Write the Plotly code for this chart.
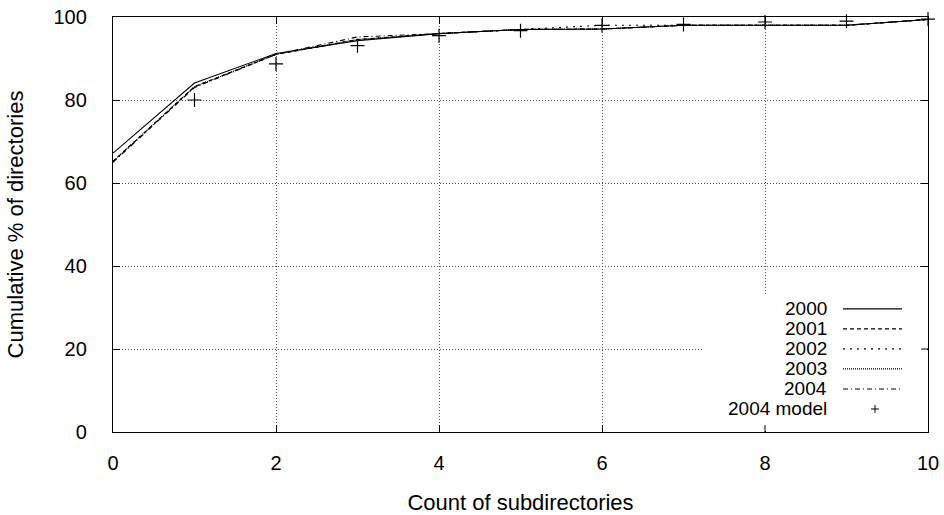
import plotly.graph_objects as go

x_counts = [0, 1, 2, 3, 4, 5, 6, 7, 8, 9, 10]
y2000 = [67.2, 84.1, 91.2, 94.3, 96.0, 97.0, 97.1, 98.0, 98.0, 98.0, 99.4]
y2001 = [65.2, 83.2, 91.0, 94.5, 96.0, 97.0, 97.1, 98.0, 98.0, 98.0, 99.4]
y2002 = [65.2, 83.2, 91.0, 94.6, 96.0, 97.0, 98.0, 98.0, 98.0, 98.0, 99.4]
y2003 = [65.2, 83.2, 91.0, 94.6, 96.0, 97.0, 97.1, 98.0, 98.0, 98.0, 99.4]
y2004 = [65.0, 83.0, 91.0, 95.2, 96.0, 97.0, 97.1, 98.0, 98.0, 98.0, 99.4]
x_model = [1, 2, 3, 4, 5, 6, 7, 8, 9, 10]
y_model = [80.0, 88.7, 93.1, 95.5, 96.7, 98.0, 98.2, 98.8, 99.0, 99.5]

series_names = ["2000", "2001", "2002", "2003", "2004"]
series_vals = [y2000, y2001, y2002, y2003, y2004]
dashes = ["solid", "4px,3px", "2px,5px", "1px,1px", "5px,3px,1px,3px"]

x_ticks = [0, 2, 4, 6, 8, 10]
y_ticks = [0, 20, 40, 60, 80, 100]

FONT = "Liberation Sans, Arial, Helvetica, sans-serif"
FS_TICK = 20
FS_TITLE = 22
FS_LEG = 19

fig = go.Figure()
for name, vals, d in zip(series_names, series_vals, dashes):
    fig.add_trace(go.Scatter(x=x_counts, y=vals, mode="lines", name=name,
                             line=dict(color="black", width=1.1, dash=d),
                             showlegend=False, cliponaxis=True))
fig.add_trace(go.Scatter(x=x_model, y=y_model, mode="markers", name="2004 model",
                         marker=dict(symbol="cross-thin", size=10,
                                     line=dict(color="black", width=1.2)),
                         showlegend=False, cliponaxis=False))

# legend (gnuplot style: text left, sample right), in axis-domain coordinates
W, H = 815.0, 414.5
def px2dx(px):
    return (px - 113) / W
def py2dy(py):
    return (432 - py) / H

def seg(x0, y0, x1, y1, dash="solid", width=1.0):
    return dict(type="line", xref="x domain", yref="y domain",
                x0=px2dx(x0), x1=px2dx(x1), y0=py2dy(y0), y1=py2dy(y1),
                line=dict(color="black", width=width, dash=dash), layer="above")

shapes = [dict(type="rect", xref="x domain", yref="y domain",
               x0=px2dx(703), x1=px2dx(927), y0=py2dy(431), y1=py2dy(296),
               fillcolor="white", line=dict(width=0), layer="above")]
# redraw the inward ticks hidden under the legend box
shapes.append(seg(765, 432, 765, 425))
shapes.append(seg(928, 349.1, 921, 349.1))

annotations = []
rows = [309, 329, 349, 369, 389, 409]
labels = series_names + ["2004 model"]
for i, (lab, ry) in enumerate(zip(labels, rows)):
    annotations.append(dict(text=lab, xref="x domain", yref="y domain",
                            x=px2dx(829), y=py2dy(ry), xanchor="right", yanchor="middle",
                            showarrow=False, font=dict(family=FONT, size=FS_LEG, color="black")))
    if i < 5:
        shapes.append(seg(843, ry, 902, ry, dash=dashes[i], width=1.1))
    else:
        cx, cy = 875, ry
        shapes.append(seg(cx - 4, cy, cx + 4, cy))
        shapes.append(seg(cx, cy - 4, cx, cy + 4))

axis_common = dict(showline=True, linecolor="black", linewidth=1.3, mirror="ticks",
                   ticks="inside", ticklen=7, tickcolor="black", tickwidth=1,
                   showgrid=True, gridcolor="#555555", gridwidth=1, griddash="1px,2px",
                   zeroline=False, automargin=False,
                   tickfont=dict(family=FONT, size=FS_TICK, color="black"))

fig.update_layout(
    width=944, height=515,
    margin=dict(l=113, r=16, t=17, b=83),
    paper_bgcolor="white", plot_bgcolor="white",
    xaxis=dict(range=[0, 10], tickvals=x_ticks, ticktext=[str(v) for v in x_ticks],
               ticklabelstandoff=13,
               title=dict(text="Count of subdirectories", standoff=23,
                          font=dict(family=FONT, size=FS_TITLE, color="black")),
               **axis_common),
    yaxis=dict(range=[0, 100], tickvals=y_ticks, ticktext=[str(v) for v in y_ticks],
               ticklabelstandoff=21,
               title=dict(text="Cumulative % of directories", standoff=23,
                          font=dict(family=FONT, size=FS_TITLE, color="black")),
               **axis_common),
    shapes=shapes, annotations=annotations,
    font=dict(family=FONT, color="black"),
)

fig.write_html("out.html", config={"displayModeBar": False},
               post_script="document.body.style.margin='0';document.body.style.overflow='hidden';")
